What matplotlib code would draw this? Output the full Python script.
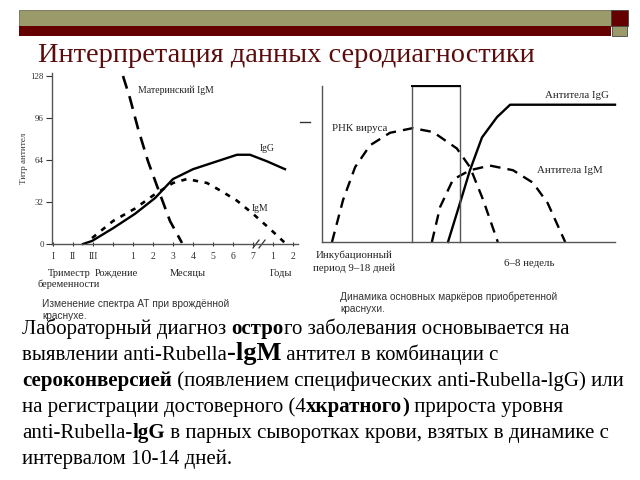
import matplotlib
matplotlib.use('Agg')
import matplotlib.pyplot as plt
from matplotlib.lines import Line2D
from matplotlib.patches import Rectangle

W, H = 640, 480

# left chart: congenital rubella
ytick_vals = [0, 32, 64, 96, 128]
xtick_pos = list(range(13))
xtick_labels = ['I', 'II', 'III', '', '1', '2', '3', '4', '5', '6', '7', '1', '2']

mat_igm_x = [3.5, 3.85, 4.25, 4.75, 5.35, 5.85, 6.45]
mat_igm_y = [128, 111, 88, 63, 38, 17.5, 0.8]
igg_x = [1.5, 1.95, 3.0, 4.1, 5.1, 6.0, 7.0, 8.2, 9.2, 9.85, 10.7, 11.6]
igg_y = [0, 2.3, 12, 23, 35, 49.5, 57, 63, 68, 68, 63, 57]
igm_x = [1.95, 3.0, 4.1, 5.1, 6.0, 6.7, 7.7, 8.45, 9.2, 10.0, 10.85, 11.6]
igm_y = [4.5, 17.5, 27, 38, 46.5, 49.5, 46.5, 40, 33, 23, 11.5, 0.8]

# right chart: acquired rubella
rna_x = [3.4, 7.2, 11.3, 16.4, 23.2, 31, 37.9, 46, 50.5, 55, 60]
rna_y = [0, 27, 48, 62, 70, 73, 70.5, 60, 48, 27, 0]
r_igm_x = [37.5, 40.3, 44.7, 50.5, 57.3, 65.2, 72, 77, 83]
r_igm_y = [0, 22.4, 40, 46, 49, 46, 38, 25, 0]
r_igg_x = [43, 47.1, 50.5, 54.6, 59.7, 64.2, 100]
r_igg_y = [0, 25, 46, 67, 80, 88, 88]
window = (30.7, 47.1)

OLIVE = '#9a9a6a'
DARKRED = '#650000'
SERIF = 'Liberation Serif'
SANS = 'Liberation Sans'
TXT = '#222222'


def fx(px):
    return px / W


def fy(py):
    return 1 - py / H


def box(x0, y0, x1, y1):
    return [fx(x0), fy(y1), (x1 - x0) / W, (y1 - y0) / H]


fig = plt.figure(figsize=(6.4, 4.8), dpi=100)
fig.patch.set_facecolor('white')

# header bars
fig.patches.append(Rectangle((fx(19), fy(26)), (611 - 19) / W, 16 / H, transform=fig.transFigure,
                             facecolor=OLIVE, edgecolor='#6f6f50', lw=0.6))
fig.patches.append(Rectangle((fx(19), fy(36)), (611 - 19) / W, 10 / H, transform=fig.transFigure,
                             facecolor=DARKRED, edgecolor='none'))
fig.patches.append(Rectangle((fx(611), fy(26)), 17 / W, 16 / H, transform=fig.transFigure,
                             facecolor=DARKRED, edgecolor='#444444', lw=0.6))
fig.patches.append(Rectangle((fx(612), fy(36)), 15 / W, 10 / H, transform=fig.transFigure,
                             facecolor=OLIVE, edgecolor='#444444', lw=0.6))

fig.text(fx(38), fy(62), 'Интерпретация данных серодиагностики', family=SERIF,
         fontsize=20.4, color='#5a0c0c', va='baseline')

# ---- left chart
ax = fig.add_axes(box(52, 73, 298, 244))
ax.plot(mat_igm_x, mat_igm_y, color='black', lw=1.9, dashes=(5, 3), clip_on=False)
ax.plot(igg_x, igg_y, color='black', lw=1.7, clip_on=False)
ax.plot(igm_x, igm_y, color='black', lw=1.9, dashes=(2, 2.5), clip_on=False)
ax.set_xlim(-0.05, 12.25)
ax.set_ylim(0, 130.3)
for s in ['top', 'right']:
    ax.spines[s].set_visible(False)
for s in ['left', 'bottom']:
    ax.spines[s].set_color('#555555')
    ax.spines[s].set_linewidth(1.0)
ax.set_yticks(ytick_vals)
ax.set_yticklabels([str(v) for v in ytick_vals], family=SERIF, fontsize=6.5)
ax.set_xticks(xtick_pos)
ax.set_xticklabels(xtick_labels, family=SERIF, fontsize=7)
ax.tick_params(axis='y', length=4, width=0.8, pad=2, colors='#333333')
ax.tick_params(axis='x', length=3, width=0.8, direction='inout', pad=4, colors='#333333')
ax.set_ylabel('Титр антител', family=SERIF, fontsize=6.5, labelpad=1.5, color='#333333')
ax.patch.set_alpha(0)
# axis break
for dx in (-0.15, 0.15):
    ax.plot([10.3 + dx - 0.15, 10.3 + dx + 0.15], [-3, 3], color='#333333', lw=0.9, clip_on=False)

ax.text(4.25, 117, 'Материнский IgM', family=SERIF, fontsize=7, color=TXT, va='center')
ax.text(10.35, 73, 'IgG', family=SERIF, fontsize=7, color=TXT, va='center')
ax.text(9.95, 27.4, 'IgM', family=SERIF, fontsize=7, color=TXT, va='center')

fig.text(fx(48), fy(273), 'Триместр', family=SERIF, fontsize=7.5, color=TXT, va='center')
fig.text(fx(38), fy(284), 'беременности', family=SERIF, fontsize=7.5, color=TXT, va='center')
fig.text(fx(95), fy(273), 'Рождение', family=SERIF, fontsize=7.5, color=TXT, va='center')
fig.text(fx(170), fy(273), 'Месяцы', family=SERIF, fontsize=7.5, color=TXT, va='center')
fig.text(fx(270), fy(273), 'Годы', family=SERIF, fontsize=7.5, color=TXT, va='center')

# ---- right chart
ax2 = fig.add_axes(box(322, 86, 615, 242))
ax2.set_xlim(0, 100)
ax2.set_ylim(0, 100)
ax2.plot(rna_x, rna_y, color='black', lw=1.7, dashes=(4.5, 3), clip_on=False)
ax2.plot(r_igm_x, r_igm_y, color='black', lw=1.7, dashes=(4.5, 3), clip_on=False)
ax2.plot(r_igg_x, r_igg_y, color='black', lw=1.7, clip_on=False)
ax2.plot([window[0], window[0], window[1], window[1]], [0, 100, 100, 0], color='#555555', lw=1.0,
         clip_on=False)
ax2.plot([window[0], window[1]], [100, 100], color='black', lw=1.4, clip_on=False)
for s in ['top', 'right']:
    ax2.spines[s].set_visible(False)
for s in ['left', 'bottom']:
    ax2.spines[s].set_color('#555555')
    ax2.spines[s].set_linewidth(1.0)
ax2.set_xticks([])
ax2.set_yticks([])
ax2.patch.set_alpha(0)
ax2.text(3.4, 73, 'РНК вируса', family=SERIF, fontsize=7.8, color=TXT, va='center')
ax2.text(76, 94, 'Антитела IgG', family=SERIF, fontsize=7.8, color=TXT, va='center')
ax2.text(73.4, 46, 'Антитела IgM', family=SERIF, fontsize=7.8, color=TXT, va='center')
fig.text(fx(354), fy(255), 'Инкубационный', family=SERIF, fontsize=7.8, color=TXT,
         ha='center', va='center')
fig.text(fx(354), fy(268), 'период 9–18 дней', family=SERIF, fontsize=7.8, color=TXT,
         ha='center', va='center')
fig.text(fx(529), fy(263), '6–8 недель', family=SERIF, fontsize=7.8, color=TXT,
         ha='center', va='center')
fig.add_artist(Line2D([fx(300), fx(310)], [fy(122), fy(122)], color='#333333', lw=1.0))

# captions
fig.text(fx(42), fy(304), 'Изменение спектра АТ при врождённой', family=SANS, fontsize=7.3,
         color='#333333', va='center')
fig.text(fx(42), fy(316), 'краснухе.', family=SANS, fontsize=7.3, color='#333333', va='center')
fig.text(fx(340), fy(297), 'Динамика основных маркёров приобретенной', family=SANS, fontsize=7.3,
         color='#333333', va='center')
fig.text(fx(340), fy(309), 'краснухи.', family=SANS, fontsize=7.3, color='#333333', va='center')

# paragraph with mixed bold runs
lines = [
    [('Лабораторный диагноз ', 'normal', 15), ('остро', 'bold', 15), ('го заболевания основывается на', 'normal', 15)],
    [('выявлении anti-Rubella', 'normal', 15), ('-lgM', 'bold', 19), (' антител в комбинации с', 'normal', 15)],
    [('сероконверсией', 'bold', 15), (' (появлением специфических anti-Rubella-lgG) или', 'normal', 15)],
    [('на регистрации достоверного (4', 'normal', 15), ('хкратного', 'bold', 15), (')', 'bold', 15),
     (' прироста уровня', 'normal', 15)],
    [('anti-Rubella-', 'normal', 15), ('lgG', 'bold', 15), (' в парных сыворотках крови, взятых в динамике с', 'normal', 15)],
    [('интервалом 10-14 дней.', 'normal', 15)],
]
baselines = [334, 360, 386, 412, 438, 464]

fig.canvas.draw()
renderer = fig.canvas.get_renderer()
for runs, yb in zip(lines, baselines):
    x = 22.0
    for s, wgt, size in runs:
        t = fig.text(fx(x), fy(yb), s, family=SERIF, fontsize=size, weight=wgt, color='black',
                     va='baseline', ha='left')
        bb = t.get_window_extent(renderer)
        x = bb.x1

fig.savefig('out.png', dpi=100, facecolor='white')
